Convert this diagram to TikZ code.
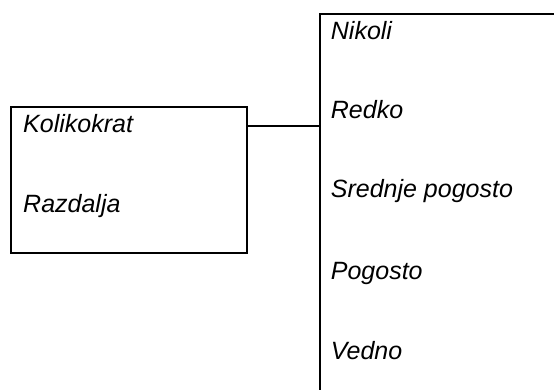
\documentclass[tikz,border=0pt]{standalone}
\usepackage{fontspec}
\setmainfont{Liberation Sans}
\usepackage{tikz}
\usetikzlibrary{positioning}

\begin{document}
\begin{tikzpicture}[x=1pt,y=1pt,font=\fontsize{25pt}{27pt}\selectfont\itshape,
      frame/.style={draw=black,line width=2pt,minimum width=235.5pt,minimum height=146pt,inner sep=0pt},
      listframe/.style={draw=black,line width=2pt,minimum width=300pt,minimum height=450pt,inner sep=0pt},
      lbl/.style={anchor=base west,inner sep=0pt},
      conn/.style={line width=2pt,color=black}]
      \useasboundingbox (0,0) rectangle (554,389);
      \clip (0,0) rectangle (554,389);
      \node[frame] (box) at (128.75,209.3) {};
      \node[listframe,anchor=north west] (list) at (319.3,375.7) {};
      \node[lbl] (koli) at (23,256.3) {Kolikokrat};
      \node[lbl] (razd) at (23,176.3) {Razdalja};
      \node[lbl] (niko) at (330.7,349.7) {Nikoli};
      \node[lbl] (redk) at (330.7,270) {Redko};
      \node[lbl] (sred) at (330.7,192) {Srednje pogosto};
      \node[lbl] (pogo) at (330.7,109.7) {Pogosto};
      \node[lbl] (vedn) at (330.7,29.7) {Vedno};
      \coordinate (join) at (0,263);
      \draw[conn] (box.east |- join) -- (list.west |- join);
    \end{tikzpicture}
\end{document}
